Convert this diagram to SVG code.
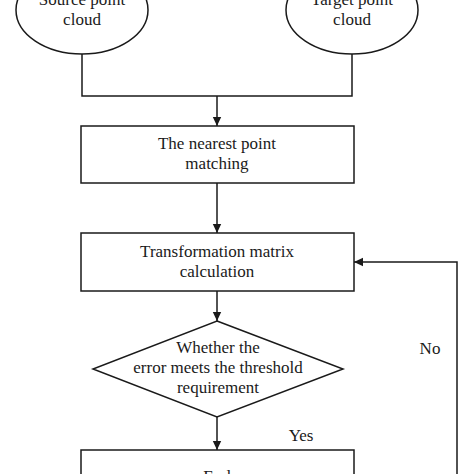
<svg xmlns="http://www.w3.org/2000/svg" width="474" height="474" viewBox="0 0 474 474">
<style>
.s{fill:#fff;stroke:#1a1a1a;stroke-width:1.5}
.c{fill:none;stroke:#1a1a1a;stroke-width:1.5}
text{font-family:"Liberation Serif","Times New Roman",serif;font-size:17px;fill:#1a1a1a;text-anchor:middle}
</style>
<defs>
<marker id="ah" markerWidth="10" markerHeight="10" refX="9" refY="5" orient="auto" markerUnits="userSpaceOnUse">
<path d="M0,0.8 L9,5 L0,9.2 Z" fill="#1a1a1a"/>
</marker>
</defs>
<rect width="474" height="474" fill="#fff"/>
<g id="connectors">
<path class="c" d="M82,54 V96 H352 V54"/>
<path class="c" d="M217,96 V126" marker-end="url(#ah)"/>
<path class="c" d="M217,183 V233" marker-end="url(#ah)"/>
<path class="c" d="M217,291 V321" marker-end="url(#ah)"/>
<path class="c" d="M217,417 V450" marker-end="url(#ah)"/>
<path class="c" d="M457,480 V262 H354" marker-end="url(#ah)"/>
<text x="430" y="354">No</text>
<text x="301" y="441">Yes</text>
</g>
<g id="source">
<ellipse class="s" cx="82" cy="10" rx="66" ry="44"/>
<text x="82" y="5">Source point</text>
<text x="82" y="25">cloud</text>
</g>
<g id="target">
<ellipse class="s" cx="352" cy="10" rx="66" ry="44"/>
<text x="352" y="5">Target point</text>
<text x="352" y="25">cloud</text>
</g>
<g id="matching">
<rect class="s" x="81" y="126" width="273" height="57"/>
<text x="217" y="149">The nearest point</text>
<text x="217" y="169">matching</text>
</g>
<g id="transform">
<rect class="s" x="81" y="233" width="273" height="58"/>
<text x="217" y="257">Transformation matrix</text>
<text x="217" y="277">calculation</text>
</g>
<g id="decision">
<polygon class="s" points="217,321 343,369 217,417 93,369"/>
<text x="218" y="353">Whether the</text>
<text x="218" y="373">error meets the threshold</text>
<text x="218" y="393">requirement</text>
</g>
<g id="end">
<rect class="s" x="81" y="450" width="273" height="50"/>
<text x="217" y="482">End</text>
</g>
</svg>
